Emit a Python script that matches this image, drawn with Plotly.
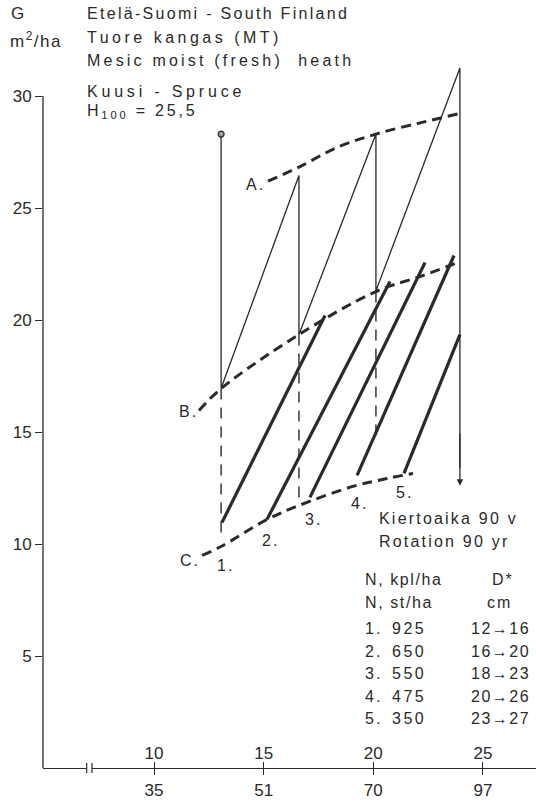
import plotly.graph_objects as go

# ---------------- data ----------------
# x = dominant height H (m), y = basal area G (m2/ha)
saw_h = [13.06, 13.06, 16.61, 16.61, 20.12, 20.12, 23.95, 23.95]
saw_g = [28.3, 16.95, 26.45, 19.35, 28.3, 21.3, 31.25, 13.4]
arrow_tip_g = 12.6

curve_a_h = [15.2, 16.66, 18.34, 20.12, 22.13, 23.86]
curve_a_g = [26.2, 26.85, 27.7, 28.3, 28.8, 29.2]
curve_b_h = [12.05, 13.06, 16.61, 20.12, 22.13, 23.86]
curve_b_g = [15.96, 16.94, 19.35, 21.27, 21.94, 22.57]
curve_c_h = [12.19, 13.06, 15.15, 16.61, 19.07, 20.62, 21.81]
curve_c_g = [9.49, 9.89, 11.09, 11.72, 12.57, 12.92, 13.15]

drop_h = [13.06, 16.61, 20.12]
drop_top_g = [16.94, 19.35, 21.27]
drop_bot_g = [10.3, 11.9, 14.6]

alt_start_h = [13.10, 15.15, 17.11, 19.26, 21.40]
alt_start_g = [10.96, 11.09, 12.08, 13.06, 13.15]
alt_end_h = [17.80, 20.76, 22.36, 23.68, 23.95]
alt_end_g = [20.20, 21.72, 22.57, 22.88, 19.35]
alt_names = ["1.", "2.", "3.", "4.", "5."]

n_kpl = [925, 650, 550, 475, 350]
d_from = [12, 16, 18, 20, 23]
d_to = [16, 20, 23, 26, 27]

g_ticks = [5, 10, 15, 20, 25, 30]
h_ticks = [10, 15, 20, 25]
age_ticks = ["35", "51", "70", "97"]

# ---------------- style ----------------
INK = "#2a2a2a"
FONT = "Liberation Sans, Arial, sans-serif"
W, H = 536, 805
ML, MR, MT, MB = 43, 0, 0, 37
PW, PH = W - ML - MR, H - MT - MB
PX_PER_G = 22.4
PX_PER_H = 21.93
H_AT_154 = 10.0
x_range = [H_AT_154 - (154 - ML) / PX_PER_H, H_AT_154 + (W - 154) / PX_PER_H]
y_range = [0, PH / PX_PER_G]


def sp(t, ls=2.0):
    return f'<span style="letter-spacing:{ls}px">{t}</span>'


def px_x(px):
    return (px - ML) / PW


def px_y(py):
    return (MT + PH - py) / PH


fig = go.Figure()

# thin sawtooth (unthinned development and thinnings)
fig.add_trace(go.Scatter(x=saw_h, y=saw_g, mode="lines",
                         line=dict(color=INK, width=1.3), hoverinfo="skip"))
# start point circle
fig.add_trace(go.Scatter(x=[saw_h[0]], y=[saw_g[0]], mode="markers",
                         marker=dict(size=6, color="#9a9a9a", line=dict(color=INK, width=1.2)),
                         hoverinfo="skip"))

# dashed verticals
for h, gt, gb in zip(drop_h, drop_top_g, drop_bot_g):
    fig.add_trace(go.Scatter(x=[h, h], y=[gt, gb], mode="lines",
                             line=dict(color=INK, width=1.4, dash="11px,8px"), hoverinfo="skip"))

# dashed curves A, B, C
for hh, gg in [(curve_a_h, curve_a_g), (curve_b_h, curve_b_g), (curve_c_h, curve_c_g)]:
    fig.add_trace(go.Scatter(x=hh, y=gg, mode="lines", line_shape="spline",
                             line=dict(color=INK, width=3, dash="10px,6px"), hoverinfo="skip"))

# thick alternatives
for h0, g0, h1, g1 in zip(alt_start_h, alt_start_g, alt_end_h, alt_end_g):
    fig.add_trace(go.Scatter(x=[h0, h1], y=[g0, g1], mode="lines",
                             line=dict(color=INK, width=3.2), hoverinfo="skip"))

# invisible trace for the upper tick row axis
fig.add_trace(go.Scatter(x=h_ticks, y=[0] * len(h_ticks), xaxis="x2", mode="markers",
                         marker=dict(opacity=0), hoverinfo="skip"))

ann = []
# arrow at the end of rotation
ann.append(dict(x=saw_h[-1], y=arrow_tip_g, ax=saw_h[-1], ay=15.0, xref="x", yref="y",
                axref="x", ayref="y", text="", showarrow=True, arrowhead=2, arrowsize=1.0,
                arrowwidth=1.3, arrowcolor=INK))


def label(text, px, py, size=16, anchor="left"):
    ann.append(dict(x=px_x(px), y=px_y(py), xref="paper", yref="paper", text=text,
                    showarrow=False, xanchor=anchor, yanchor="middle",
                    font=dict(family=FONT, size=size, color=INK)))


# header texts
label(sp("G", 1), 9, 14, size=17)
label(sp("m<sup>2</sup>/ha", 1.5), 8, 40, size=17)
label(sp("Etelä-Suomi - South Finland", 2.3), 85, 14)
label(sp("Tuore kangas (MT)", 3.5), 85, 37)
label(sp("Mesic moist (fresh)  heath", 3.2), 85, 60)
label(sp("Kuusi - Spruce", 3.8), 85, 91)
label(sp("H<sub>100</sub> = 25,5", 2.8), 85, 111)

# curve labels
label(sp("A."), 244, 185)
label(sp("B."), 177, 411)
label(sp("C."), 178, 560)
alt_label_px = [(215, 565), (260, 540), (303, 519), (349, 503), (394, 492)]
for name, (px, py) in zip(alt_names, alt_label_px):
    label(sp(name), px, py)

# rotation
label(sp("Kiertoaika 90 v", 2.2), 377, 518)
label(sp("Rotation 90 yr", 2.2), 377, 541)

# table
label(sp("N, kpl/ha", 1.6), 363, 579)
label(sp("N, st/ha", 1.6), 363, 602)
label(sp("D*", 2), 503, 579, anchor="center")
label(sp("cm", 2), 499, 602, anchor="center")
row_y = [628, 651, 673, 696, 718]
for i, (n, a, b) in enumerate(zip(n_kpl, d_from, d_to)):
    label(sp(f"{i + 1}."), 363, row_y[i])
    label(sp(f"{n}", 2.5), 390, row_y[i])
    label(sp(f"{a}→{b}", 1.5), 500, row_y[i], anchor="center")

shapes = [
    # y axis line from 0 to 30
    dict(type="line", xref="paper", yref="y", x0=0, x1=0, y0=0, y1=30,
         line=dict(color=INK, width=1.3)),
    # axis break on x axis
    dict(type="rect", xref="x", yref="paper", x0=6.93, x1=7.17, y0=-3 / PH, y1=3 / PH,
         fillcolor="white", line=dict(width=0), layer="above"),
    dict(type="line", xref="x", yref="paper", x0=6.93, x1=6.93, y0=-5 / PH, y1=5 / PH,
         line=dict(color=INK, width=1.2), layer="above"),
    dict(type="line", xref="x", yref="paper", x0=7.17, x1=7.17, y0=-5 / PH, y1=5 / PH,
         line=dict(color=INK, width=1.2), layer="above"),
]

fig.update_layout(
    width=W, height=H, margin=dict(l=ML, r=MR, t=MT, b=MB, pad=0),
    paper_bgcolor="white", plot_bgcolor="white", showlegend=False,
    font=dict(family=FONT, size=16, color=INK),
    xaxis=dict(range=x_range, showgrid=False, zeroline=False, showline=True,
               linecolor=INK, linewidth=1.3, ticks="outside", ticklen=6, tickwidth=1.3,
               tickcolor=INK, tickvals=h_ticks, ticktext=age_ticks,
               tickfont=dict(family=FONT, size=17, color=INK), fixedrange=True),
    xaxis2=dict(range=x_range, overlaying="x", anchor="y", side="bottom",
                showgrid=False, zeroline=False, showline=False,
                ticks="inside", ticklen=6, tickwidth=1.3, tickcolor=INK,
                ticklabelposition="inside", tickvals=h_ticks,
                ticktext=[str(v) for v in h_ticks],
                tickfont=dict(family=FONT, size=17, color=INK), fixedrange=True),
    yaxis=dict(range=y_range, showgrid=False, zeroline=False, showline=False,
               ticks="outside", ticklen=7, tickwidth=1.3, tickcolor=INK,
               tickvals=g_ticks, tickfont=dict(family=FONT, size=17, color=INK),
               fixedrange=True),
    annotations=ann, shapes=shapes,
)

fig.write_html("out.html")
